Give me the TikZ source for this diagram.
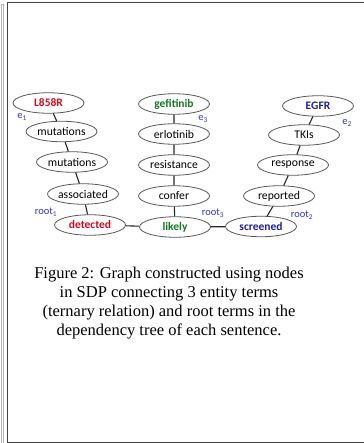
\documentclass[tikz,border=0pt]{standalone}
\usepackage{fontspec}
\setmainfont{Liberation Serif}
\newfontfamily\calibri{Carlito}
\usetikzlibrary{shapes.geometric}
\definecolor{snpred}{RGB}{210,10,30}
\definecolor{drggreen}{RGB}{20,120,30}
\definecolor{genblue}{RGB}{30,30,160}
\definecolor{tagblue}{RGB}{50,50,210}
\begin{document}
\begin{tikzpicture}[x=1pt,y=-1pt]
\tikzset{
  term/.style={draw=black!65, line width=0.8pt, ellipse, minimum width=71pt, minimum height=20.5pt,
    inner sep=0pt, font=\calibri\fontsize{11.7}{13}\selectfont},
  entity/.style={term, font=\calibri\bfseries\fontsize{11.5}{13}\selectfont},
  tag/.style={text=tagblue, inner sep=0pt, font=\calibri\fontsize{10.5}{12}\selectfont},
  link/.style={black!85, line width=1.1pt}
}
\useasboundingbox (0,0) rectangle (363,443);

% page frame
\draw[gray!60, line width=0.7pt] (1.3,4.3) rectangle (3.7,446);
\draw[black!75, line width=0.9pt] (364,2) -- (7.5,2) -- (7.5,442) -- (364,442);

% first sentence
\node[entity, text=snpred] (l858r) at (48.5,103) {L858R};
\node[term] (mutA) at (61.5,131.5) {mutations};
\node[term] (mutB) at (72,162) {mutations};
\node[term] (assoc) at (83,194) {associated};
\node[entity, text=snpred] (detected) at (90,225) {detected};

% second sentence
\node[entity, text=drggreen] (gefit) at (174,104) {gefitinib};
\node[term] (erlot) at (174,134) {erlotinib};
\node[term] (resist) at (174,165) {resistance};
\node[term] (confer) at (174,196) {confer};
\node[entity, text=drggreen] (likely) at (175,227) {likely};

% third sentence
\node[entity, text=genblue] (egfr) at (318,106) {EGFR};
\node[term] (tkis) at (304,135) {TKIs};
\node[term] (resp) at (293,165) {response};
\node[term] (reported) at (279,196) {reported};
\node[entity, text=genblue] (screened) at (261,226.5) {screened};

% tags
\node[tag] (eA) at (22,117) {e\textsubscript{1}};
\node[tag] (rootA) at (46,212) {root\textsubscript{1}};
\node[tag] (eC) at (203,119) {e\textsubscript{3}};
\node[tag] (rootC) at (213,213) {root\textsubscript{3}};
\node[tag] (eB) at (347,123) {e\textsubscript{2}};
\node[tag] (rootB) at (302,215) {root\textsubscript{2}};

\draw[link] (l858r) -- (mutA) (mutA) -- (mutB) (mutB) -- (assoc) (assoc) -- (detected);
\draw[link] (gefit) -- (erlot) (erlot) -- (resist) (resist) -- (confer) (confer) -- (likely);
\draw[link] (egfr) -- (tkis) (tkis) -- (resp) (resp) -- (reported) (reported) -- (screened);
\draw[link] (detected) -- (likely) (likely) -- (screened);

\node[align=center, font=\fontsize{16.5}{19}\selectfont] (caption) at (169,303)
  {Figure 2: Graph constructed using nodes\\ in SDP connecting 3 entity terms\\
   (ternary relation) and root terms in the\\ dependency tree of each sentence.};
\end{tikzpicture}
\end{document}
